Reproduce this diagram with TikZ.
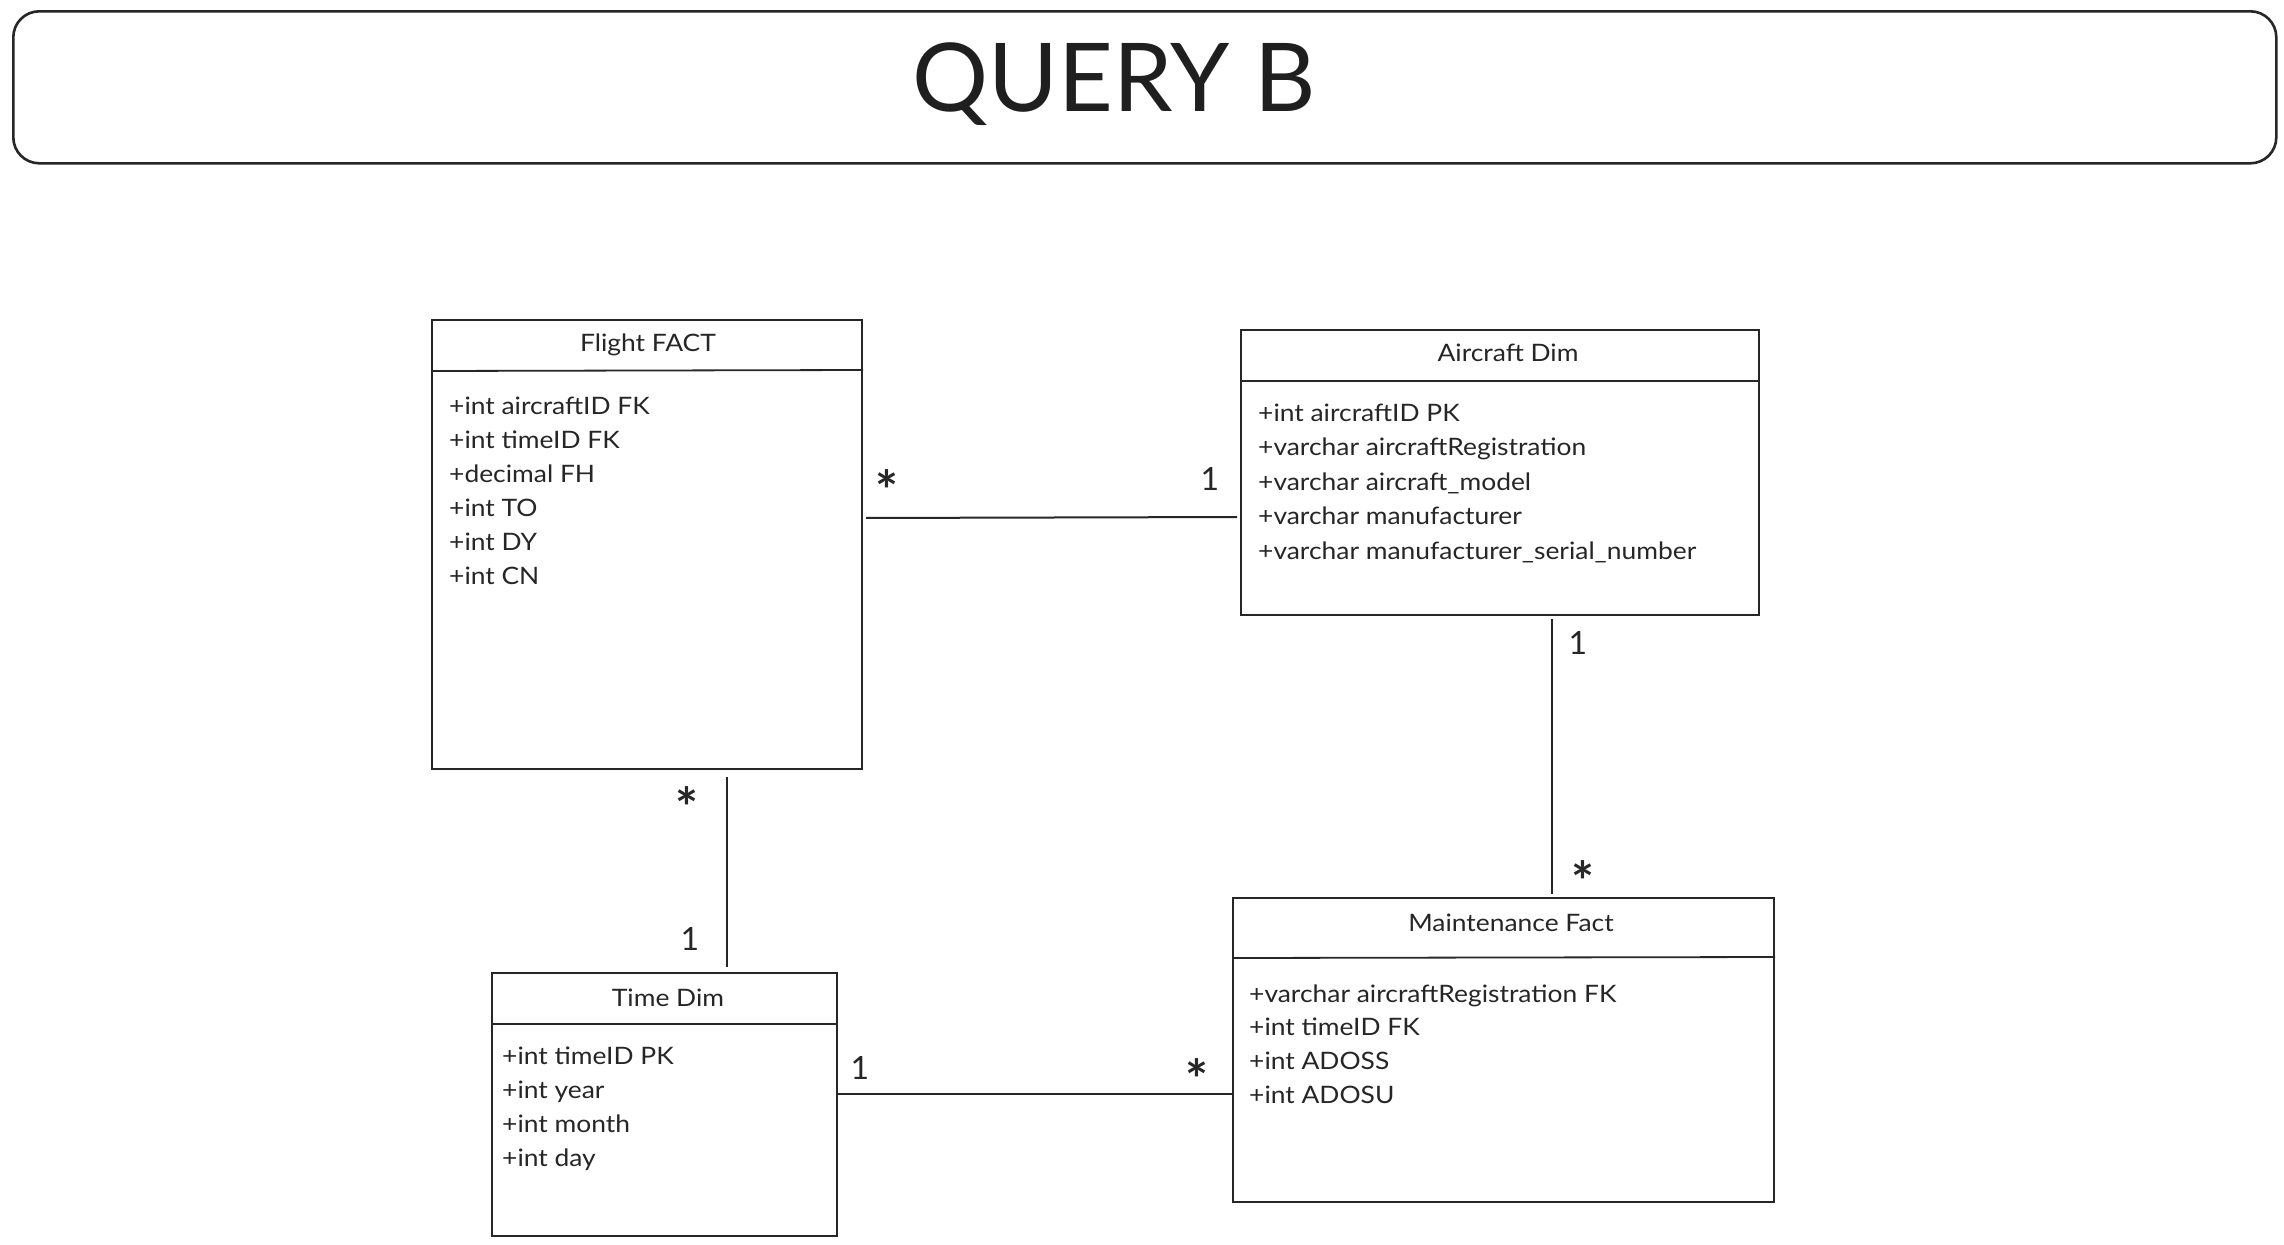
\documentclass[tikz,border=0pt]{standalone}
\usepackage{fontspec}
\setmainfont{Lato}
\newfontfamily\widefont[FakeStretch=1.1]{Lato}
\newfontfamily\starfont{Lato Bold}
\begin{document}
\begin{tikzpicture}[x=1pt,y=-1pt,
  tbl/.style={draw=black!85, line width=2pt, inner sep=0pt, anchor=north west},
  sep/.style={draw=black!85, line width=1.8pt},
  ttl/.style={inner sep=0pt, anchor=base, font=\widefont\fontsize{24}{30}\selectfont, text=black!85},
  attr/.style={inner sep=0pt, anchor=base west, font=\widefont\fontsize{24}{30}\selectfont, text=black!85},
  conn/.style={draw=black!85, line width=2pt},
  mult/.style={inner sep=0pt, anchor=center, font=\fontsize{32}{32}\selectfont, text=black!85},
  star/.style={inner sep=0pt, anchor=center, yshift=-9pt, font=\starfont\fontsize{54}{54}\selectfont, text=black!85}
]
\useasboundingbox (0,0) rectangle (2284,1245);
\fill[white] (0,0) rectangle (2284,1245);

% title
\node[draw=black!85, line width=2.6pt, rounded corners=26pt, minimum width=2263pt, minimum height=152pt, anchor=north west, inner sep=0pt] (titlebox) at (12,10) {};
\node[inner sep=0pt, anchor=base, font=\fontsize{95}{95}\selectfont, text=black!88] (title) at (1114,111) {QUERY B};

% Flight FACT
\node[tbl, minimum width=430pt, minimum height=449pt] (flight) at (431,319) {};
\draw[sep] (flight.west |- 0,371) -- (flight.east |- 0,370);
\node[ttl] (flightT) at (648,351.5) {Flight FACT};
\foreach \t [count=\i] in {+int aircraftID FK,+int timeID FK,+decimal FH,+int TO,+int DY,+int CN}
  \node[attr] (flight\i) at (449,{414+34*(\i-1)}) {\t};

% Aircraft Dim
\node[tbl, minimum width=518pt, minimum height=285pt] (aircraft) at (1240,329) {};
\draw[sep] (aircraft.west |- 0,381) -- (aircraft.east |- 0,381);
\node[ttl] (aircraftT) at (1508,361.5) {Aircraft Dim};
\foreach \t [count=\i] in {+int aircraftID PK,+varchar aircraftRegistration,+varchar aircraft\_model,+varchar manufacturer,+varchar manufacturer\_serial\_number}
  \node[attr] (aircraft\i) at (1258,{421+34.6*(\i-1)}) {\t};

% Time Dim
\node[tbl, minimum width=345pt, minimum height=263pt] (time) at (491,972) {};
\draw[sep] (time.west |- 0,1024) -- (time.east |- 0,1024);
\node[ttl] (timeT) at (668,1006.5) {Time Dim};
\foreach \t [count=\i] in {+int timeID PK,+int year,+int month,+int day}
  \node[attr] (time\i) at (502,{1064+34.3*(\i-1)}) {\t};

% Maintenance Fact
\node[tbl, minimum width=541pt, minimum height=304pt] (maint) at (1232,897) {};
\draw[sep] (maint.west |- 0,958) -- (maint.east |- 0,957);
\node[ttl] (maintT) at (1511,931.5) {Maintenance Fact};
\foreach \t [count=\i] in {+varchar aircraftRegistration FK,+int timeID FK,+int ADOSS,+int ADOSU}
  \node[attr] (maint\i) at (1249,{1002+33.8*(\i-1)}) {\t};

% connectors
\draw[conn, shorten <=3pt, shorten >=3pt] (flight.east |- 0,518) -- (aircraft.west |- 0,517);
\draw[conn, shorten <=3pt, shorten >=3pt] (aircraft.south -| 1552,0) -- (maint.north -| 1552,0);
\draw[conn, shorten <=7pt, shorten >=5pt] (flight.south -| 727,0) -- (time.north -| 727,0);
\draw[conn] (time.east |- 0,1094) -- (maint.west |- 0,1094);

% multiplicities
\node[star] (m1) at (887,481) {*};
\node[mult] (m2) at (1210,479) {1};
\node[mult] (m3) at (1578,643) {1};
\node[star] (m4) at (1583,872) {*};
\node[star] (m5) at (687,798) {*};
\node[mult] (m6) at (690,939) {1};
\node[mult] (m7) at (860,1068) {1};
\node[star] (m8) at (1197,1070) {*};
\end{tikzpicture}
\end{document}
